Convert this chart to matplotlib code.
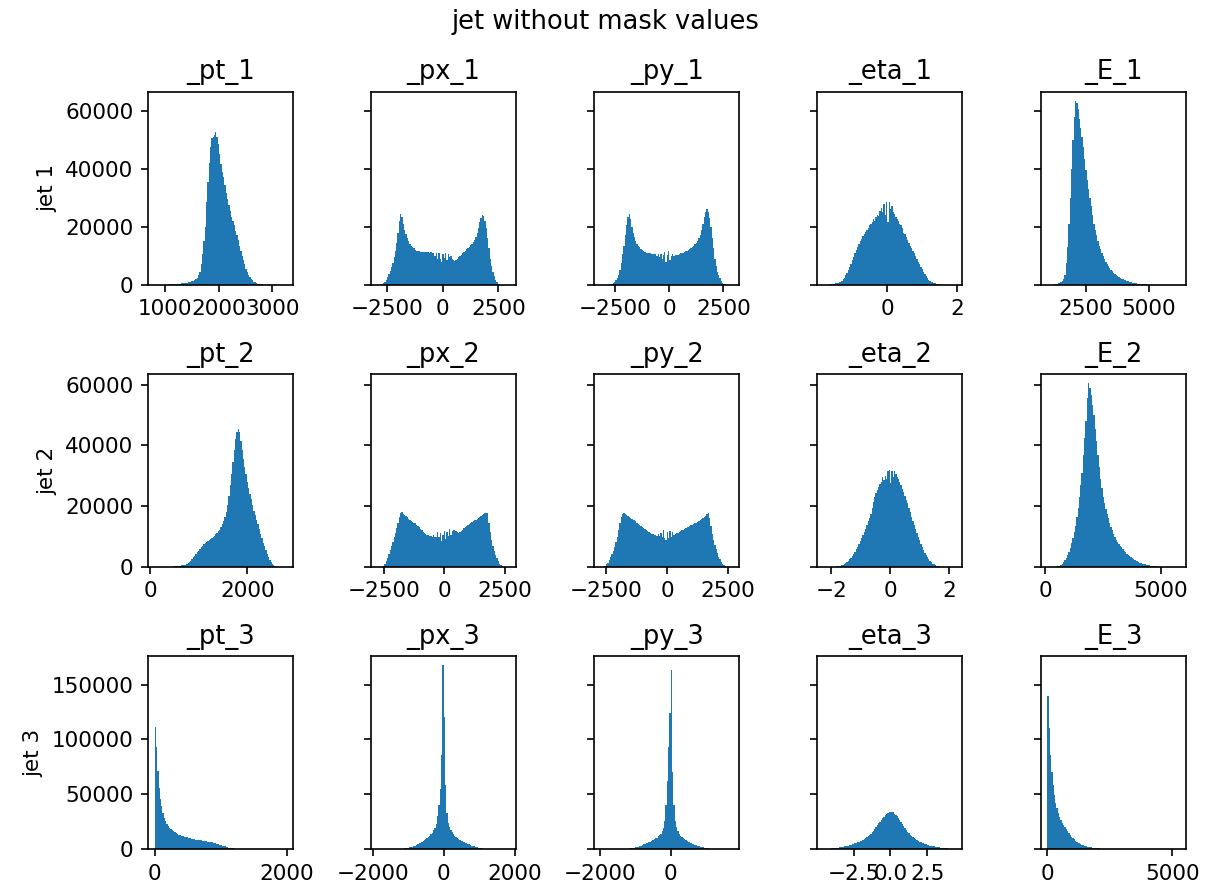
import numpy as np
import matplotlib
matplotlib.use("Agg")
import matplotlib.pyplot as plt

plt.rcParams["font.size"] = 10.3

variables = ["_pt", "_px", "_py", "_eta", "_E"]
jet_labels = ["jet 1", "jet 2", "jet 3"]
suptitle = "jet without mask values"

# data ranges (min, max) of each histogram, 100 bins each
range_pt_1 = (806, 3257)
range_px_1 = (-2904, 2994)
range_py_1 = (-3162, 2925)
range_eta_1 = (-1.80, 1.955)
range_E_1 = (983, 6190)
range_pt_2 = (94, 2798)
range_px_2 = (-2743, 2689)
range_py_2 = (-2699, 2683)
range_eta_2 = (-2.246, 2.233)
range_E_2 = (97, 5794)
range_pt_3 = (0, 1990)
range_px_3 = (-1864, 1854)
range_py_3 = (-1965, 1735)
range_eta_3 = (-4.5, 4.45)
range_E_3 = (0, 5260)

counts_pt_1 = [
    0, 0, 0, 0, 0, 0, 20, 30, 40, 60,
    80, 100, 130, 160, 200, 240, 280, 320, 350, 400,
    450, 500, 580, 650, 720, 800, 900, 1000, 1150, 1300,
    1600, 2000, 2500, 3500, 4500, 7000, 10500, 15000, 19800, 28500,
    35500, 42000, 47500, 50500, 51000, 51500, 52800, 51000, 48500, 45000,
    41500, 39000, 37000, 34500, 31500, 29500, 27500, 25500, 23500, 22000,
    20500, 18500, 17000, 15500, 13500, 11500, 10000, 8500, 7000, 5500,
    4500, 3500, 2800, 2000, 1500, 1100, 800, 500, 300, 200,
    130, 90, 60, 40, 30, 20, 0, 0, 0, 0,
    0, 0, 0, 0, 0, 0, 0, 0, 0, 0]

counts_px_1 = [
    0, 0, 50, 200, 500, 1000, 1700, 2700, 3800, 4800,
    6200, 7600, 9500, 11800, 14500, 18000, 22000, 24500, 23500, 21000,
    19000, 17500, 16000, 15000, 14200, 13500, 13000, 12500, 12000, 11800,
    11600, 11500, 11400, 11400, 11300, 11300, 11400, 11200, 11300, 11100,
    11200, 10800, 11000, 9800, 10900, 9000, 10800, 8800, 7800, 10500,
    9200, 11000, 8500, 10600, 9600, 10000, 9000, 8600, 8300, 8400,
    8900, 9400, 9900, 10400, 10900, 11300, 11700, 12200, 12600, 13000,
    13600, 14100, 14600, 15500, 16500, 17800, 19500, 21500, 23000, 24000,
    23800, 22000, 19500, 16000, 12500, 9000, 6500, 4500, 3000, 1800,
    1000, 400, 150, 50, 0, 0, 0, 0, 0, 0]

counts_py_1 = [
    0, 0, 0, 0, 0, 50, 100, 200, 400, 700,
    1100, 1600, 2400, 3500, 5200, 7500, 10500, 13500, 17000, 20500,
    23500, 24500, 22500, 20000, 18000, 16500, 15200, 14200, 13500, 12900,
    12400, 12000, 11600, 11300, 11100, 11000, 10900, 10800, 10700, 10600,
    10500, 10600, 10000, 10500, 9500, 10700, 9000, 10400, 11300, 7800,
    10200, 11500, 8500, 10000, 10600, 9800, 10200, 10300, 10400, 10600,
    10800, 11000, 11100, 11300, 11500, 11700, 12000, 12200, 12600, 13000,
    13500, 14000, 14500, 15200, 16000, 17200, 18800, 21000, 23500, 25000,
    26000, 25200, 23000, 20000, 16000, 12500, 9000, 6500, 4500, 3300,
    2200, 1300, 700, 300, 100, 0, 0, 0, 0, 0]

counts_eta_1 = [
    0, 0, 0, 50, 100, 150, 250, 350, 450, 550,
    700, 850, 1100, 1400, 1900, 2500, 3200, 4000, 5000, 6000,
    7200, 8400, 9600, 10800, 12000, 13000, 14000, 15000, 15800, 16700,
    17500, 18200, 18800, 19500, 20500, 21000, 21800, 22500, 22000, 23500,
    24200, 23800, 25500, 26500, 25000, 28000, 24000, 28500, 21500, 28500,
    26000, 27000, 25000, 24500, 23500, 22500, 22000, 20800, 20500, 19500,
    18000, 17500, 16500, 15500, 14500, 13500, 12800, 11800, 10800, 9800,
    9000, 8000, 7000, 6000, 5500, 4500, 3600, 3000, 2300, 1800,
    1400, 1100, 800, 600, 450, 350, 250, 150, 100, 50,
    30, 20, 10, 0, 0, 0, 0, 0, 0, 0]

counts_E_1 = [
    0, 0, 0, 0, 50, 100, 200, 300, 450, 650,
    900, 1200, 2000, 3500, 7500, 13000, 21000, 30000, 40000, 50000,
    58000, 63300, 62500, 60500, 57000, 54000, 51000, 47500, 43500, 39500,
    36000, 33000, 30000, 27000, 24000, 21000, 19000, 17000, 15000, 13500,
    12200, 11000, 10000, 9000, 8000, 7200, 6500, 5800, 5200, 4700,
    4200, 3800, 3400, 3000, 2700, 2400, 2100, 1900, 1700, 1500,
    1300, 1150, 1000, 850, 750, 650, 550, 450, 380, 320,
    260, 220, 180, 150, 120, 100, 80, 65, 50, 40,
    30, 25, 20, 15, 10, 8, 6, 4, 2, 1,
    0, 0, 0, 0, 0, 0, 0, 0, 0, 0]

counts_pt_2 = [
    0, 0, 0, 0, 0, 0, 0, 0, 0, 0,
    50, 60, 80, 100, 130, 160, 200, 250, 300, 380,
    460, 550, 650, 780, 900, 1200, 1600, 2100, 2600, 3200,
    3700, 4200, 4800, 5300, 5900, 6400, 7000, 7400, 7800, 8200,
    8500, 8800, 9100, 9400, 9800, 10300, 10800, 11300, 11800, 12300,
    13200, 14000, 15000, 16500, 18000, 20500, 23500, 27000, 30500, 34500,
    38500, 42000, 44500, 45500, 44500, 41500, 38500, 35500, 33000, 30500,
    28000, 26000, 24000, 22500, 20500, 18500, 17000, 15500, 14000, 12500,
    11000, 9500, 8000, 6800, 5600, 4400, 3300, 2300, 1500, 900,
    500, 250, 100, 0, 0, 0, 0, 0, 0, 0]

counts_px_2 = [
    0, 0, 50, 150, 400, 900, 1800, 3000, 4300, 5500,
    7000, 8300, 9800, 11300, 12700, 14500, 16300, 17700, 18000, 17500,
    17100, 16700, 16300, 15900, 15500, 15200, 14900, 14600, 14300, 13900,
    13500, 13000, 12500, 12000, 11600, 11200, 10900, 10600, 10400, 10200,
    10100, 10000, 10500, 9800, 9900, 11500, 9700, 11200, 8600, 10600,
    11800, 9200, 11500, 10300, 12400, 10500, 11800, 12200, 12100, 11800,
    11500, 11300, 11400, 11800, 12300, 12800, 13200, 13500, 13800, 14100,
    14400, 14700, 15000, 15300, 15600, 15900, 16200, 16500, 16800, 17100,
    17400, 17700, 17900, 17800, 14500, 11500, 9000, 7000, 5300, 3900,
    2800, 1900, 1100, 600, 300, 100, 0, 0, 0, 0]

counts_py_2 = [
    0, 50, 150, 400, 800, 1400, 2200, 3100, 4100, 5300,
    6700, 8200, 10000, 12000, 14500, 16500, 17500, 17900, 17500, 17200,
    16800, 16500, 16200, 15900, 15600, 15300, 15000, 14600, 14200, 13800,
    13400, 13000, 12700, 12400, 12100, 11800, 11500, 11200, 11000, 10800,
    10600, 10500, 10300, 11000, 10200, 11300, 9900, 12000, 9400, 8800,
    11500, 9600, 11800, 10000, 11500, 10500, 10900, 11100, 11300, 11500,
    11700, 12000, 12300, 12600, 12900, 13100, 13300, 13500, 13700, 13900,
    14100, 14300, 14500, 14800, 15100, 15400, 15700, 16000, 16400, 16800,
    17300, 17600, 16000, 13500, 11000, 9000, 7200, 5800, 4500, 3400,
    2500, 1700, 1100, 600, 300, 100, 0, 0, 0, 0]

counts_eta_2 = [
    0, 0, 0, 0, 0, 0, 30, 60, 100, 150,
    200, 280, 380, 500, 700, 950, 1250, 1600, 2000, 2500,
    3000, 3600, 4300, 5000, 5800, 6600, 7500, 8500, 9500, 10500,
    11500, 12600, 13800, 15000, 16200, 17500, 19500, 21500, 23000, 24500,
    25500, 26300, 27200, 28000, 29500, 28500, 30000, 29000, 31500, 32000,
    27500, 31500, 29500, 31500, 30500, 29500, 29000, 28000, 27000, 25800,
    24700, 23500, 22200, 20900, 19500, 18000, 16500, 15200, 13800, 12500,
    11200, 10000, 8800, 7600, 6500, 5500, 4600, 3900, 3300, 2600,
    2000, 1500, 1100, 800, 600, 450, 300, 200, 120, 60,
    30, 10, 0, 0, 0, 0, 0, 0, 0, 0]

counts_E_2 = [
    0, 0, 0, 0, 30, 60, 100, 200, 300, 450,
    650, 1000, 1500, 2200, 3000, 3900, 5000, 6300, 7800, 9500,
    11500, 13500, 16500, 19500, 23000, 27000, 31000, 37000, 42500, 48000,
    55500, 60500, 59000, 56500, 53500, 50000, 45500, 41500, 37000, 33000,
    29000, 26000, 23000, 21000, 19000, 17500, 16000, 14500, 13200, 12000,
    11000, 10000, 9000, 8300, 7700, 7000, 6400, 5900, 5300, 4800,
    4300, 3900, 3500, 3100, 2800, 2500, 2200, 2000, 1800, 1600,
    1400, 1250, 1100, 950, 800, 700, 600, 500, 420, 350,
    280, 220, 180, 140, 110, 90, 70, 50, 35, 25,
    15, 10, 5, 0, 0, 0, 0, 0, 0, 0]

counts_pt_3 = [
    111000, 93000, 71000, 56000, 46000, 39000, 33000, 28500, 25500, 23000,
    21000, 19500, 18200, 17200, 16200, 15300, 14500, 13800, 13200, 12700,
    12200, 11800, 11400, 11000, 10700, 10400, 10100, 9800, 9500, 9200,
    8900, 8600, 8400, 8200, 8000, 7800, 7600, 7400, 7200, 7000,
    6800, 6600, 6300, 6000, 5700, 5400, 5100, 4800, 4400, 4000,
    3600, 3200, 2800, 2400, 2000, 1600, 1300, 1000, 750, 550,
    400, 280, 180, 120, 80, 50, 30, 20, 10, 5,
    0, 0, 0, 0, 0, 0, 0, 0, 0, 0,
    0, 0, 0, 0, 0, 0, 0, 0, 0, 0,
    0, 0, 0, 0, 0, 0, 0, 0, 0, 0]

counts_px_3 = [
    0, 0, 0, 0, 0, 0, 0, 0, 0, 0,
    50, 60, 70, 80, 90, 100, 150, 200, 300, 400,
    550, 700, 900, 1100, 1400, 1700, 2100, 2600, 3100, 3700,
    4400, 5100, 5800, 6600, 7400, 8200, 9000, 10000, 11000, 12200,
    13500, 15000, 17000, 19500, 23000, 30000, 40000, 55000, 86000, 167500,
    120000, 58000, 33000, 24000, 20000, 17500, 15500, 13500, 12000, 11000,
    10000, 9200, 8400, 7700, 7000, 6400, 5800, 5200, 4700, 4200,
    3700, 3200, 2800, 2400, 2000, 1600, 1300, 1000, 800, 600,
    450, 350, 250, 180, 120, 80, 50, 30, 20, 10,
    0, 0, 0, 0, 0, 0, 0, 0, 0, 0]

counts_py_3 = [
    0, 0, 0, 0, 0, 0, 0, 0, 0, 0,
    0, 0, 0, 0, 0, 100, 150, 200, 250, 300,
    400, 500, 650, 800, 1000, 1200, 1500, 1800, 2200, 2700,
    3200, 3700, 4200, 4700, 5200, 5700, 6200, 6800, 7400, 8000,
    8800, 9600, 10500, 11500, 12700, 14000, 16000, 19500, 26000, 40000,
    62000, 93000, 124000, 163000, 70000, 40000, 26000, 20000, 16500, 14000,
    12200, 11000, 10000, 9000, 8200, 7400, 6700, 6000, 5400, 4800,
    4300, 3800, 3300, 2900, 2500, 2100, 1800, 1500, 1250, 1000,
    800, 600, 450, 330, 240, 170, 120, 80, 50, 30,
    20, 10, 0, 0, 0, 0, 0, 0, 0, 0]

counts_eta_3 = [
    100, 150, 200, 300, 400, 500, 600, 750, 900, 1050,
    1200, 1400, 1600, 1800, 2050, 2300, 2600, 2900, 3200, 3500,
    3900, 4300, 4700, 5100, 5500, 6000, 6500, 7100, 7700, 8300,
    9000, 9800, 10700, 11700, 12800, 14000, 15300, 16800, 18400, 20000,
    21700, 23400, 25100, 26700, 28200, 29600, 31000, 32200, 33200, 33900,
    34200, 34000, 33400, 32400, 31200, 29800, 28200, 26500, 24700, 22900,
    21000, 19200, 17500, 15900, 14400, 13000, 11800, 10700, 9700, 8800,
    8000, 7300, 6700, 6100, 5600, 5100, 4700, 4300, 3900, 3500,
    3200, 2900, 2600, 2300, 2050, 1800, 1600, 1400, 1200, 1050,
    900, 750, 600, 500, 400, 300, 200, 150, 100, 50]

counts_E_3 = [
    140000, 110000, 86000, 70000, 58000, 49000, 42000, 37000, 33000, 29500,
    26500, 24000, 21800, 19800, 18000, 16200, 14500, 12800, 11300, 10000,
    8800, 7700, 6700, 5900, 5200, 4500, 3900, 3400, 3000, 2600,
    2200, 1900, 1600, 1400, 1200, 1000, 850, 700, 600, 500,
    400, 330, 270, 220, 180, 150, 120, 100, 80, 60,
    40, 30, 20, 10, 0, 0, 0, 0, 0, 0,
    0, 0, 0, 0, 0, 0, 0, 0, 0, 0,
    0, 0, 0, 0, 0, 0, 0, 0, 0, 0,
    0, 0, 0, 0, 0, 0, 0, 0, 0, 0,
    0, 0, 0, 0, 0, 0, 0, 0, 0, 0]

ranges = [
    [range_pt_1, range_px_1, range_py_1, range_eta_1, range_E_1],
    [range_pt_2, range_px_2, range_py_2, range_eta_2, range_E_2],
    [range_pt_3, range_px_3, range_py_3, range_eta_3, range_E_3],
]
counts = [
    [counts_pt_1, counts_px_1, counts_py_1, counts_eta_1, counts_E_1],
    [counts_pt_2, counts_px_2, counts_py_2, counts_eta_2, counts_E_2],
    [counts_pt_3, counts_px_3, counts_py_3, counts_eta_3, counts_E_3],
]

N_BINS = 100

fig, axes = plt.subplots(3, 5, figsize=(1211 / 150, 881 / 150), dpi=150,
                         sharey='row')
fig.subplots_adjust(left=0.1222, right=0.979, top=0.8956, bottom=0.0363,
                    wspace=0.54, hspace=0.4635)

for r in range(3):
    for c in range(5):
        ax = axes[r, c]
        lo, hi = ranges[r][c]
        w = np.zeros(N_BINS)
        vals = np.asarray(counts[r][c], dtype=float)[:N_BINS]
        w[:len(vals)] = vals
        edges = np.linspace(lo, hi, N_BINS + 1)
        centers = 0.5 * (edges[:-1] + edges[1:])
        ax.hist(centers, bins=edges, weights=w, color="#1f77b4")
        ax.set_title(f"{variables[c]}_{r + 1}")
    axes[r, 0].set_ylabel(jet_labels[r])

fig.suptitle(suptitle, y=0.99)
fig.savefig("out.png", dpi=150)
